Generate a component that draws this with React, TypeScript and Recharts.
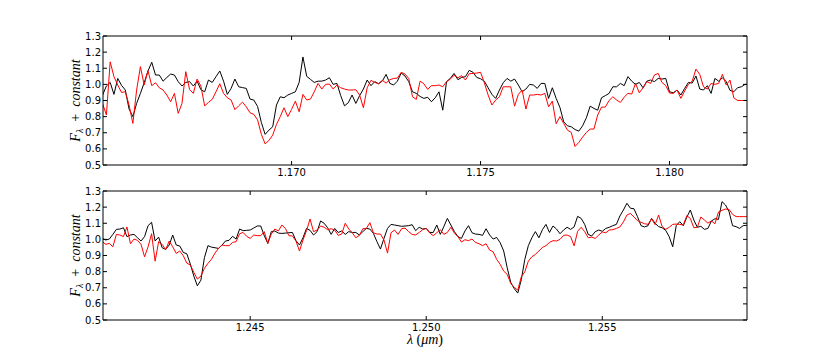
import React from 'react';
import { LineChart, Line, XAxis, YAxis } from 'recharts';

// Sampling grids (wavelength in micron)
const topStart = 1.165;
const botStart = 1.2408;
const gridStep = 0.0001;

const topBlack = [
  0.934,0.99,1.012,0.938,1.037,0.994,0.965,0.847,0.80,0.882,
  0.944,1.01,1.083,1.137,1.058,1.058,1.02,1.043,1.064,1.058,
  1.017,0.99,1.012,1.017,0.99,1.02,0.967,0.954,1.027,1.012,
  1.048,1.083,1.02,0.938,0.975,1.033,0.985,0.98,0.975,0.909,
  0.903,0.863,0.764,0.69,0.716,0.737,0.872,0.923,0.917,0.934,
  0.944,0.954,1.012,1.17,1.05,1.031,1.012,1.02,1.02,1.027,
  1.041,1.0,1.006,0.93,0.867,0.886,0.934,0.882,0.93,0.971,
  1.027,0.992,1.017,1.004,1.02,1.062,1.006,0.996,1.02,1.07,
  1.052,1.017,0.954,0.944,0.925,0.913,0.92,0.892,0.917,0.954,
  0.84,1.017,1.037,1.068,1.029,1.043,1.048,1.087,1.075,1.043,
  1.035,1.02,0.979,0.938,0.913,0.965,1.01,1.037,1.02,1.033,
  0.996,0.954,0.971,1.0,0.996,0.975,1.006,1.006,0.913,0.979,
  0.913,0.857,0.768,0.743,0.737,0.72,0.71,0.743,0.793,0.865,
  0.851,0.84,0.917,0.93,0.944,0.985,0.985,1.006,0.992,1.048,
  1.02,1.0,1.012,0.979,1.02,1.027,1.017,1.037,1.033,1.037,
  0.954,0.948,0.965,0.934,0.975,1.012,1.008,1.052,0.971,0.965,
  0.992,0.944,1.037,1.02,1.041,1.017,0.963,0.954,0.979,0.985,
  1.0,1.0,
];

const topRed = [
  0.88,0.81,1.14,1.048,0.996,0.95,0.954,0.872,0.758,0.965,
  1.11,0.996,1.085,0.992,1.01,0.979,0.965,0.934,0.892,0.944,
  0.82,0.882,1.079,0.969,0.944,1.033,0.99,0.867,0.888,0.907,
  0.954,1.004,0.944,0.917,0.903,0.843,0.867,0.89,0.861,0.824,
  0.814,0.78,0.69,0.631,0.652,0.685,0.752,0.8,0.855,0.8,
  0.845,0.896,0.83,0.938,0.903,0.909,0.954,1.006,0.971,1.0,
  1.002,0.971,0.996,0.979,0.971,0.965,0.965,0.967,0.934,0.855,
  0.979,1.025,1.012,1.004,1.025,1.008,1.029,1.037,1.039,1.075,
  1.064,1.037,0.923,0.907,1.02,1.004,0.969,0.992,0.992,0.996,
  0.985,1.017,1.033,1.056,1.041,1.054,1.027,1.066,1.068,1.07,
  1.075,1.01,0.934,0.872,0.903,0.923,0.985,0.985,0.985,0.865,
  0.938,0.965,0.847,0.934,0.934,0.938,0.934,0.944,0.861,0.896,
  0.756,0.8,0.758,0.716,0.702,0.615,0.64,0.673,0.702,0.723,
  0.723,0.81,0.859,0.859,0.9,0.923,0.903,0.888,0.921,0.944,
  0.94,1.006,0.948,0.979,1.017,1.006,1.058,1.068,1.012,0.992,
  0.946,0.944,0.965,0.913,0.959,1.0,1.02,1.095,1.062,0.985,
  0.971,1.006,1.0,1.006,1.062,0.996,1.027,0.917,0.90,0.90,
  0.90,0.90,
];

const botBlack = [
  1.006,0.996,1.002,1.031,1.062,1.064,1.072,1.017,1.027,1.031,
  1.01,0.99,1.017,1.085,1.106,0.99,1.014,0.948,0.938,0.965,
  1.027,0.965,0.959,0.919,0.911,0.847,0.772,0.712,0.747,0.886,
  0.961,0.952,0.948,0.944,0.965,0.99,0.994,1.019,1.002,1.064,
  1.054,1.056,1.058,1.07,1.083,1.083,1.023,0.975,1.048,1.052,
  1.039,1.037,1.039,1.041,1.043,0.992,0.965,1.01,1.068,1.056,
  1.027,1.048,1.114,1.1,1.072,1.031,1.068,1.043,1.052,1.031,
  1.048,1.043,1.043,1.027,1.048,1.068,1.064,1.037,0.986,0.94,
  1.006,1.068,1.093,1.089,1.085,1.081,1.083,1.085,1.091,1.054,
  1.075,1.064,1.068,1.043,1.043,1.089,1.031,1.079,1.13,1.089,
  1.048,1.017,1.006,1.052,1.085,1.041,1.033,1.031,1.025,1.066,
  1.027,1.002,1.012,0.979,0.928,0.824,0.733,0.694,0.667,0.75,
  0.876,0.961,1.01,1.048,1.01,1.06,1.093,1.043,1.083,1.064,
  1.035,1.058,1.075,1.062,1.077,1.143,1.13,1.093,1.031,1.021,
  1.048,1.058,1.05,1.068,1.075,1.085,1.093,1.145,1.182,1.224,
  1.193,1.19,1.141,1.085,1.077,1.085,1.13,1.1,1.079,1.072,
  1.056,1.017,0.954,1.085,1.11,1.085,1.137,1.182,1.12,1.075,
  1.081,1.062,1.068,1.114,1.128,1.124,1.234,1.213,1.172,1.085,
  1.079,1.068,1.085,1.087,1.093,
];

const botRed = [
  0.986,0.969,0.975,0.954,1.031,1.027,1.017,1.077,0.973,1.002,
  0.994,0.969,0.892,0.954,1.035,0.865,0.986,0.969,0.936,0.99,
  0.954,0.913,0.928,0.899,0.853,0.841,0.795,0.754,0.772,0.82,
  0.851,0.876,0.915,0.944,0.965,0.961,0.961,0.981,0.986,1.035,
  1.043,1.019,1.006,1.027,1.023,1.023,1.048,0.975,1.033,1.064,
  1.052,1.089,1.068,1.023,1.021,0.99,0.928,0.996,1.054,1.126,
  1.048,1.058,1.083,1.075,1.06,1.066,1.058,1.025,1.033,1.1,
  1.064,1.041,1.01,1.025,1.066,1.068,1.104,1.041,1.033,1.033,
  0.996,0.915,1.041,1.058,1.031,1.066,1.07,1.048,1.031,1.027,
  1.043,1.06,1.068,1.039,1.023,1.041,1.06,1.031,1.043,1.075,
  1.039,1.017,0.983,0.998,0.992,1.002,0.981,0.973,0.961,0.973,
  0.934,0.923,0.876,0.845,0.803,0.783,0.727,0.702,0.685,0.768,
  0.799,0.865,0.892,0.907,0.928,0.95,0.961,0.981,0.992,0.99,
  1.0,1.025,1.027,1.017,0.96,1.05,1.075,1.048,1.01,1.014,
  1.006,1.027,1.046,1.041,1.058,1.06,1.068,1.077,1.108,1.151,
  1.161,1.139,1.116,1.106,1.097,1.093,1.128,1.091,1.151,1.079,
  1.062,1.075,1.093,1.095,1.093,1.089,1.147,1.13,1.072,1.075,
  1.139,1.12,1.101,1.114,1.097,1.17,1.18,1.188,1.186,1.155,
  1.141,1.141,1.141,1.141,1.141,
];

const topXTicks = [1.17, 1.175, 1.18];
const botXTicks = [1.245, 1.25, 1.255];
const yTicks = [0.5, 0.6, 0.7, 0.8, 0.9, 1.0, 1.1, 1.2, 1.3];
const topDomain = [1.16501, 1.18205];
const botDomain = [1.24082, 1.25911];
const yDomain = [0.5, 1.3];

const makeRows = (start: number, black: number[], red: number[]) =>
  black.map((b, i) => ({ w: +(start + i * gridStep).toFixed(5), black: b, red: red[i] }));

const topRows = makeRows(topStart, topBlack, topRed);
const botRows = makeRows(botStart, botBlack, botRed);

const FONT = '"DejaVu Sans", sans-serif';
const SERIF = '"Liberation Serif", "DejaVu Serif", serif';

const BottomTick = (p: any) => (
  <g>
    <line x1={p.x} x2={p.x} y1={p.y} y2={p.y - 4} stroke="#000" strokeWidth={1} />
    <text x={p.x} y={p.y + 11} textAnchor="middle" fontSize={10} fontFamily={FONT} fill="#000">
      {Number(p.payload.value).toFixed(3)}
    </text>
  </g>
);
const TopTick = (p: any) => (
  <line x1={p.x} x2={p.x} y1={p.y} y2={p.y + 4} stroke="#000" strokeWidth={1} />
);
const LeftTick = (p: any) => (
  <g>
    <line x1={p.x} x2={p.x + 4} y1={p.y} y2={p.y} stroke="#000" strokeWidth={1} />
    <text x={p.x - 2} y={p.y + 3.6} textAnchor="end" fontSize={10} fontFamily={FONT} fill="#000">
      {Number(p.payload.value).toFixed(1)}
    </text>
  </g>
);
const RightTick = (p: any) => (
  <line x1={p.x} x2={p.x - 4} y1={p.y} y2={p.y} stroke="#000" strokeWidth={1} />
);

const axisLine = { stroke: '#000', strokeWidth: 1 };

function Panel({ rows, domain, xTicks, height, top, xAxisHeight }: any) {
  return (
    <LineChart
      width={830}
      height={height}
      data={rows}
      margin={{ top: top - 1, right: 82, bottom: 0, left: 0 }}
    >
      <XAxis
        xAxisId="bottom"
        dataKey="w"
        type="number"
        domain={domain}
        allowDataOverflow
        ticks={xTicks}
        interval={0}
        height={xAxisHeight}
        tickSize={0}
        tickMargin={0}
        tickLine={false}
        axisLine={axisLine}
        tick={<BottomTick />}
      />
      <XAxis
        xAxisId="top"
        orientation="top"
        dataKey="w"
        type="number"
        domain={domain}
        allowDataOverflow
        ticks={xTicks}
        interval={0}
        height={1}
        tickSize={0}
        tickMargin={0}
        tickLine={false}
        axisLine={axisLine}
        tick={<TopTick />}
      />
      <YAxis
        yAxisId="left"
        type="number"
        domain={yDomain}
        allowDataOverflow
        ticks={yTicks}
        interval={0}
        width={103}
        tickSize={0}
        tickMargin={0}
        tickLine={false}
        axisLine={axisLine}
        tick={<LeftTick />}
      />
      <YAxis
        yAxisId="right"
        orientation="right"
        type="number"
        domain={yDomain}
        allowDataOverflow
        ticks={yTicks}
        interval={0}
        width={1}
        tickSize={0}
        tickMargin={0}
        tickLine={false}
        axisLine={axisLine}
        tick={<RightTick />}
      />
      {/* invisible series that binds the mirrored top/right frame axes */}
      <Line xAxisId="top" yAxisId="right" type="linear" dataKey="black" stroke="none" strokeWidth={0} dot={false} activeDot={false} isAnimationActive={false} />
      <Line xAxisId="bottom" yAxisId="left" type="linear" dataKey="black" stroke="#000000" strokeWidth={1} dot={false} activeDot={false} isAnimationActive={false} />
      <Line xAxisId="bottom" yAxisId="left" type="linear" dataKey="red" stroke="#ff0000" strokeWidth={1} dot={false} activeDot={false} isAnimationActive={false} />
    </LineChart>
  );
}

const YTitle = ({ cy }: { cy: number }) => (
  <text transform={`translate(79.5, ${cy}) rotate(-90)`} textAnchor="middle" fontFamily={SERIF} fontSize={14} fill="#000" xmlSpace="preserve">
    <tspan fontStyle="italic">F</tspan>
    <tspan fontStyle="italic" fontSize={10} dy={3}>λ</tspan>
    <tspan dy={-3}>{'  +  '}</tspan>
    <tspan fontStyle="italic">constant</tspan>
  </text>
);

export default function App() {
  return (
    <div style={{ position: 'absolute', left: 0, top: 0, width: 830, height: 356, background: '#fff' }}>
      <div style={{ position: 'absolute', left: 0, top: 0 }}>
        <Panel rows={topRows} domain={topDomain} xTicks={topXTicks} height={180} top={36} xAxisHeight={15} />
      </div>
      <div style={{ position: 'absolute', left: 0, top: 180 }}>
        <Panel rows={botRows} domain={botDomain} xTicks={botXTicks} height={176} top={11} xAxisHeight={36} />
      </div>
      <svg width={830} height={356} style={{ position: 'absolute', left: 0, top: 0, pointerEvents: 'none' }}>
        <YTitle cy={100.5} />
        <YTitle cy={255.5} />
        <text x={425} y={344} textAnchor="middle" fontFamily={SERIF} fontSize={14} fill="#000" xmlSpace="preserve">
          <tspan fontStyle="italic">λ</tspan>
          <tspan>{' ('}</tspan>
          <tspan fontStyle="italic">μm</tspan>
          <tspan>)</tspan>
        </text>
      </svg>
    </div>
  );
}
